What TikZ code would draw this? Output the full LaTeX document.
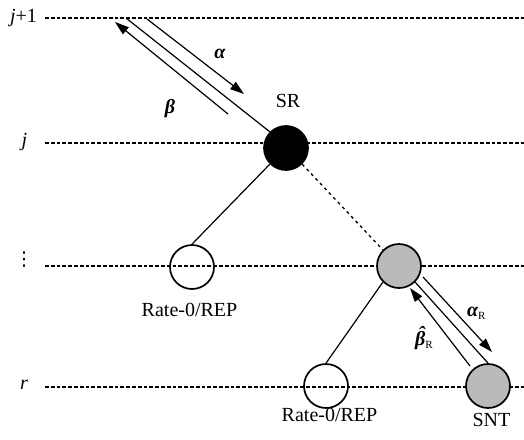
\documentclass[tikz,border=0pt]{standalone}
\usepackage{fontspec}
\setmainfont{Liberation Serif}
\newfontfamily\symfont{DejaVu Sans}
\usetikzlibrary{arrows.meta}

\begin{document}
\begin{tikzpicture}[x=1pt,y=-1pt,
  font=\fontsize{20}{24}\selectfont,
  level/.style={line width=1.3pt, dash pattern=on 3.8pt off 2pt},
  bnode/.style={circle, draw, line width=1.7pt, minimum size=44pt, inner sep=0pt},
  rootnode/.style={bnode, fill=black},
  leafnode/.style={bnode},
  relnode/.style={bnode, fill=black!27},
  edge/.style={line width=1.2pt},
  weak/.style={line width=1.3pt, dash pattern=on 3pt off 3.5pt},
  msg/.style={line width=1.2pt, -{Triangle[length=14pt,width=9pt]}},
  lbl/.style={inner sep=0pt, outer sep=0pt}]
\useasboundingbox (0,0) rectangle (524,439);

% stage levels
\draw[level] (45,18) -- (524,18);
\draw[level] (45,143) -- (524,143);
\draw[level] (45,266) -- (524,266);
\draw[level] (45,387) -- (524,387);
\node[lbl] (lvtop) at (23.5,18.5) {\itshape j\upshape +1};
\node[lbl] (lvj) at (24.5,142.5) {\itshape j};
\node[lbl] (lvdots) at (24,259.5) {\symfont\fontsize{19}{19}\selectfont ⋮};
\node[lbl] (lvr) at (24,385) {\itshape r};

% tree nodes
\node[rootnode] (SR) at (286,148) {};
\node[leafnode] (L1) at (192,267) {};
\node[relnode] (M) at (399,266) {};
\node[leafnode] (L2) at (326,386) {};
\node[relnode] (SNT) at (488,386) {};

% tree edges
\coordinate (top) at (126,18);
\draw[edge] (top) -- (SR.north west);
\draw[edge] (SR.south west) -- (L1.north);
\draw[weak] (SR.south east) -- (M.north west);
\draw[edge] (M.south west) -- (L2.north);
\draw[edge] (M.south east) -- (SNT.north);

% messages
\coordinate (a1) at (147,19);
\coordinate (a2) at (244,94);
\coordinate (b1) at (228,114);
\coordinate (b2) at (115,22);
\draw[msg] (a1) -- (a2);
\draw[msg] (b1) -- (b2);
\coordinate (ar1) at (423,277);
\coordinate (ar2) at (492,352);
\coordinate (br1) at (470,366);
\coordinate (br2) at (410,288);
\draw[msg] (ar1) -- (ar2);
\draw[msg] (br1) -- (br2);

% labels
\node[lbl] (tSR) at (288,101) {SR};
\node[lbl] (talpha) at (220,54) {\bfseries\itshape α};
\node[lbl] (tbeta) at (170,108.5) {\bfseries\itshape β};
\node[lbl, anchor=west] (taR) at (467,313) {{\bfseries\itshape α}\raisebox{-3pt}{\fontsize{11}{11}\selectfont R}};
\node[lbl, anchor=west] (tbR) at (415,338) {{\bfseries\itshape \accent"02C6 β}\raisebox{-3pt}{\fontsize{11}{11}\selectfont R}};
\node[lbl] (tL1) at (189.5,310) {Rate-0/REP};
\node[lbl] (tL2) at (329.5,414.5) {Rate-0/REP};
\node[lbl] (tSNT) at (491.5,419.5) {SNT};
\end{tikzpicture}
\end{document}
